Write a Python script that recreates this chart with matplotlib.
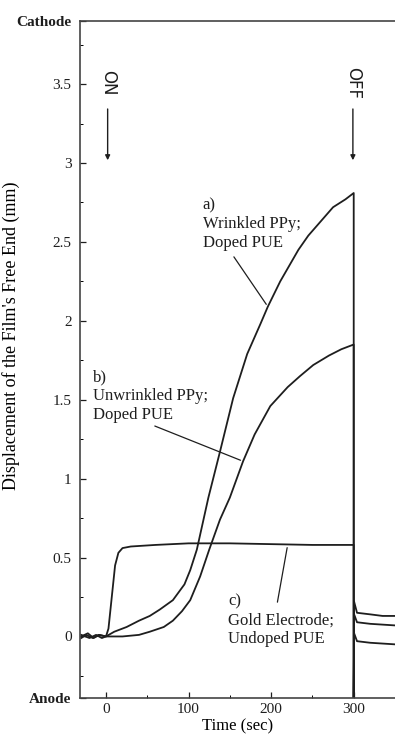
import numpy as np
import matplotlib
matplotlib.use('Agg')
import matplotlib.pyplot as plt
from matplotlib.ticker import MultipleLocator

plt.rcParams['font.family'] = ['Liberation Serif', 'DejaVu Serif']

# a) wrinkled PPy, doped PUE
t_a = [-30, -22, -15, -8, 0, 10, 25, 40, 53, 65, 81, 95, 102, 110, 124, 138, 154, 171,
       187, 196, 211, 233, 245, 260, 275, 290, 300, 300, 300.5, 304, 320, 335, 350]
v_a = [0.0, 0.02, -0.01, 0.01, 0.0, 0.03, 0.06, 0.10, 0.13, 0.17, 0.23, 0.33, 0.42, 0.55,
       0.88, 1.17, 1.51, 1.79, 1.98, 2.09, 2.25, 2.45, 2.54, 2.63, 2.72, 2.77, 2.81, -0.39,
       0.22, 0.15, 0.14, 0.13, 0.13]

# b) unwrinkled PPy, doped PUE
t_b = [-30, -20, -12, -5, 0, 20, 40, 53, 70, 81, 92, 102, 114, 125, 138, 150, 166, 180,
       199, 220, 235, 251, 270, 285, 300, 300, 300.5, 304, 320, 335, 350]
v_b = [0.01, -0.01, 0.01, -0.01, 0.0, 0.0, 0.01, 0.03, 0.06, 0.10, 0.16, 0.23, 0.38, 0.55,
       0.74, 0.88, 1.11, 1.28, 1.46, 1.58, 1.65, 1.72, 1.78, 1.82, 1.85, -0.39, 0.14, 0.09,
       0.08, 0.075, 0.07]

# c) gold electrode, undoped PUE
t_c = [-30, -24, -16, -9, 0, 3, 7, 11, 15, 20, 30, 60, 100, 150, 200, 250, 300, 300,
       300.5, 304, 320, 335, 350]
v_c = [-0.01, 0.01, -0.01, 0.01, 0.0, 0.05, 0.25, 0.45, 0.53, 0.56, 0.57, 0.58, 0.59,
       0.59, 0.585, 0.58, 0.58, -0.39, 0.02, -0.03, -0.04, -0.045, -0.05]

x_ticks = [0, 100, 200, 300]
y_ticks = [-0.39, 0, 0.5, 1, 1.5, 2, 2.5, 3, 3.5, 3.9]
y_labels = ['Anode', '0', '0.5', '1', '1.5', '2', '2.5', '3', '3.5', 'Cathode']

fig = plt.figure(figsize=(3.95, 7.42), dpi=100)
ax = fig.add_axes([0.2025, 0.0593, 0.7975, 0.9124])

ink = '#1e1e1e'
for t, v in [(t_a, v_a), (t_b, v_b), (t_c, v_c)]:
    ax.plot(t, v, '-', color=ink, lw=1.3)

ax.set_xlim(-31.5, 350)
ax.set_ylim(-0.39, 3.9)
ax.set_xticks(x_ticks)
ax.set_yticks(y_ticks)
ax.set_yticklabels(y_labels)
ax.yaxis.set_minor_locator(MultipleLocator(0.25))
ax.xaxis.set_minor_locator(MultipleLocator(50))
ax.tick_params(direction='in', length=4, width=0.9, labelsize=11, colors=ink)
ax.tick_params(which='minor', direction='in', length=2, width=0.7)
ax.tick_params(axis='y', pad=6)
for lab in ax.get_yticklabels()[::9]:
    lab.set_fontweight('bold')
ax.spines['right'].set_visible(False)
for s in ['left', 'top', 'bottom']:
    ax.spines[s].set_color('#444444')
    ax.spines[s].set_linewidth(1.2)

ax.set_xlabel('Time (sec)', fontsize=12, labelpad=2)
ax.set_ylabel("Displacement of the Film's Free End (mm)", fontsize=13)
ax.yaxis.set_label_coords(-0.19, 0.535)

# labels and leader lines
ax.text(117, 2.78, 'a)\nWrinkled PPy;\nDoped PUE', fontsize=12, va='top', ha='left',
        linespacing=1.2, color=ink)
ax.annotate('', xy=(196, 2.09), xytext=(153, 2.42),
            arrowprops=dict(arrowstyle='-', color=ink, lw=0.9))
ax.text(-16, 1.69, 'b)\nUnwrinkled PPy;\nDoped PUE', fontsize=12, va='top', ha='left',
        linespacing=1.2, color=ink)
ax.annotate('', xy=(166, 1.11), xytext=(56, 1.34),
            arrowprops=dict(arrowstyle='-', color=ink, lw=0.9))
ax.text(148, 0.27, 'c)\nGold Electrode;\nUndoped PUE', fontsize=12, va='top', ha='left',
        linespacing=1.2, color=ink)
ax.annotate('', xy=(220, 0.58), xytext=(207, 0.20),
            arrowprops=dict(arrowstyle='-', color=ink, lw=0.9))

# ON / OFF markers
for tx, lab in [(2, 'ON'), (299, 'OFF')]:
    ax.text(tx, 3.51, lab, rotation=-90, ha='center', va='center', fontsize=12,
            family='DejaVu Sans', color=ink)
    ax.annotate('', xy=(tx, 3.0), xytext=(tx, 3.36),
                arrowprops=dict(arrowstyle='-|>', color=ink, lw=1.0, mutation_scale=7))

fig.savefig('out.png', dpi=100)
